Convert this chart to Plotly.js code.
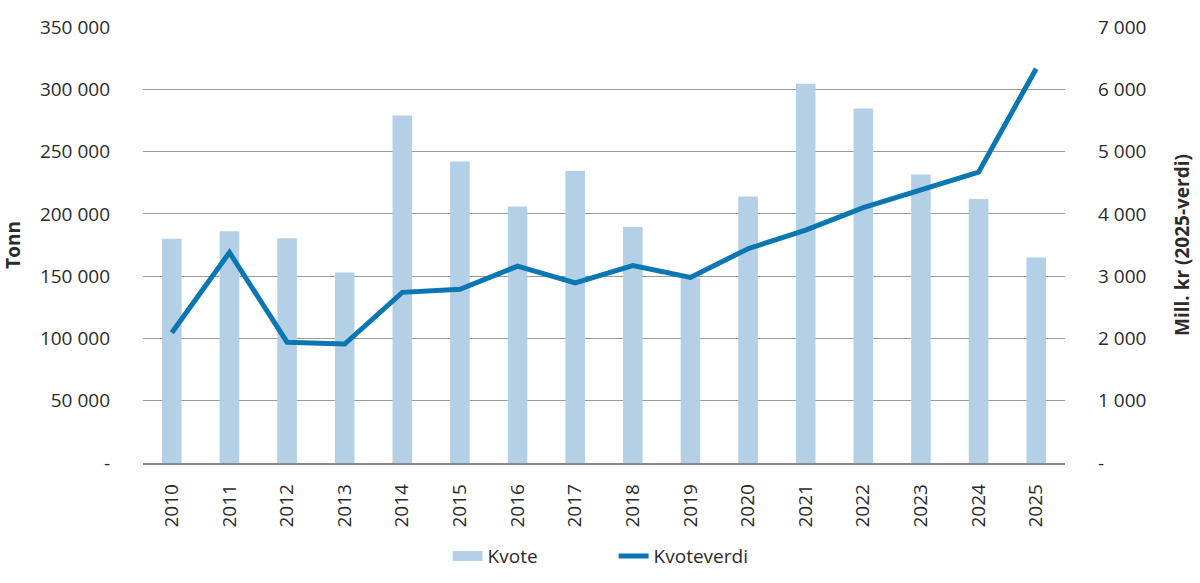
<!DOCTYPE html>
<html>
<head>
<meta charset="utf-8">
<script src="https://cdn.plot.ly/plotly-3.0.1.min.js"></script>
<style>
  html, body { margin: 0; padding: 0; background: #fff; }
  #chart { width: 1200px; height: 583px; }
</style>
</head>
<body>
<div id="chart"></div>
<script>
// years on x axis
var years = ['2010', '2011', '2012', '2013', '2014', '2015', '2016', '2017',
             '2018', '2019', '2020', '2021', '2022', '2023', '2024', '2025'];

// Kvote, tonn (left axis)
var kvote = [180000, 186000, 180500, 153000, 279000, 242000, 206000, 234500,
             189500, 149000, 214000, 304500, 284500, 231500, 212000, 165000];

// Kvoteverdi, mill. kr 2025-verdi (right axis)
var kvoteverdi = [2090, 3380, 1940, 1910, 2740, 2790, 3160, 2890,
                  3170, 2980, 3440, 3740, 4100, 4380, 4670, 6330];

var leftTicks = [0, 50000, 100000, 150000, 200000, 250000, 300000, 350000];
var leftText = ['-', '50 000', '100 000', '150 000', '200 000', '250 000', '300 000', '350 000'];
var rightTicks = [0, 1000, 2000, 3000, 4000, 5000, 6000, 7000];
var rightText = ['-', '1 000', '2 000', '3 000', '4 000', '5 000', '6 000', '7 000'];

var fontFam = 'Open Sans, sans-serif';
var txtCol = '#2b2b2b';
var barCol = '#b4d0e7';
var lineCol = '#0a77b3';

var barTrace = {
    x: years,
    y: kvote,
    type: 'bar',
    name: 'Kvote',
    marker: { color: barCol },
    yaxis: 'y',
    showlegend: false
};

// legend-only entry so the Kvote swatch is a wide block like the original
var barLegend = {
    x: [null],
    y: [null],
    type: 'scatter',
    mode: 'lines',
    name: 'Kvote',
    line: { color: barCol, width: 16 },
    yaxis: 'y'
};

var lineTrace = {
    x: years,
    y: kvoteverdi,
    type: 'scatter',
    mode: 'lines',
    name: 'Kvoteverdi',
    line: { color: lineCol, width: 5 },
    yaxis: 'y2'
};

var layout = {
    width: 1200,
    height: 583,
    margin: { l: 143, r: 135, t: 27, b: 120 },
    paper_bgcolor: '#ffffff',
    plot_bgcolor: '#ffffff',
    font: { family: fontFam, size: 19, color: txtCol },
    bargap: 0.66,
    showlegend: true,
    legend: {
        orientation: 'h',
        xref: 'container',
        yref: 'container',
        x: 0.373,
        xanchor: 'left',
        y: 0.046,
        yanchor: 'middle',
        font: { family: fontFam, size: 19, color: txtCol },
        entrywidth: 121,
        entrywidthmode: 'pixels',
        traceorder: 'normal'
    },
    xaxis: {
        type: 'category',
        tickangle: -90,
        showgrid: false,
        showline: true,
        linecolor: '#8a8a8a',
        linewidth: 1.5,
        ticks: '',
        automargin: false,
        ticklabelstandoff: 12,
        tickfont: { family: fontFam, size: 19, color: txtCol }
    },
    yaxis: {
        title: { text: '<b>Tonn</b>', font: { family: fontFam, size: 19, color: txtCol }, standoff: 28 },
        range: [0, 350000],
        tickvals: leftTicks,
        ticktext: leftText,
        showgrid: true,
        gridcolor: '#9a9a9a',
        gridwidth: 1,
        zeroline: false,
        ticks: '',
        ticklabelstandoff: 32,
        tickfont: { family: fontFam, size: 19, color: txtCol }
    },
    yaxis2: {
        title: { text: '<b>Mill. kr (2025-verdi)</b>', font: { family: fontFam, size: 19, color: txtCol }, standoff: 30 },
        overlaying: 'y',
        side: 'right',
        range: [0, 7000],
        tickvals: rightTicks,
        ticktext: rightText,
        showgrid: false,
        zeroline: false,
        ticks: '',
        ticklabelstandoff: 32,
        tickfont: { family: fontFam, size: 19, color: txtCol }
    }
};

Plotly.newPlot('chart', [barTrace, barLegend, lineTrace], layout, { displayModeBar: false, staticPlot: true });
</script>
</body>
</html>
